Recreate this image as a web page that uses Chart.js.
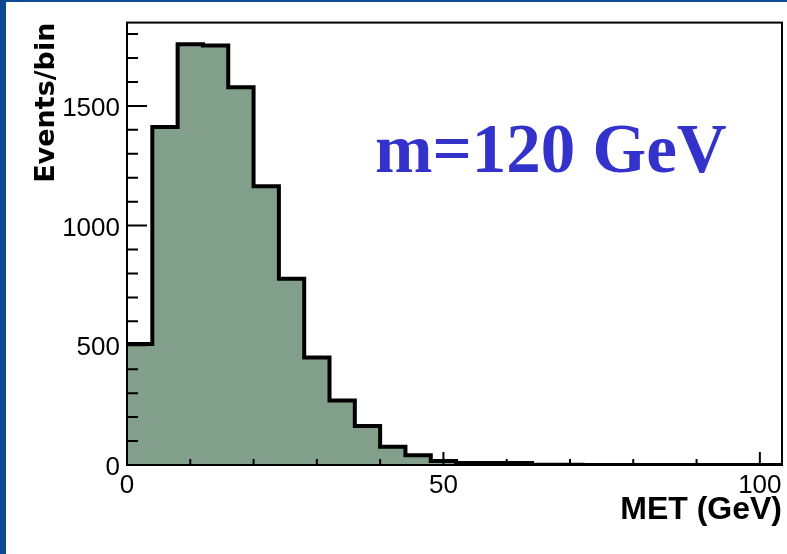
<!DOCTYPE html>
<html>
<head>
<meta charset="utf-8">
<title>MET distribution, m=120 GeV</title>
<script src="https://cdn.jsdelivr.net/npm/chart.js@4.4.1/dist/chart.umd.min.js"></script>
<style>
  html, body { margin: 0; padding: 0; background: #fff; }
  #wrap { position: relative; width: 787px; height: 554px; overflow: hidden; }
  .edge { position: absolute; background: #0e4a91; }
  #edge-left { left: 0; top: 0; width: 6px; height: 554px; }
  #edge-top { left: 0; top: 0; width: 787px; height: 2px; }
  canvas { position: absolute; left: 0; top: 0; }
  #mass {
    position: absolute; left: 375px; top: 115px;
    font: bold 69px "Liberation Serif", "Times New Roman", serif;
    line-height: 68px; color: #3333cc; white-space: nowrap;
  }
</style>
</head>
<body>
<div id="wrap">
  <div class="edge" id="edge-left"></div>
  <div class="edge" id="edge-top"></div>
  <canvas id="met-chart" width="787" height="554"></canvas>
  <div id="mass">m=120 GeV</div>
</div>
<script>
// MET histogram: low edge of each 4 GeV bin and the events in it
var binLow = [0, 4, 8, 12, 16, 20, 24, 28, 32, 36, 40, 44, 48,
              52, 56, 60, 64, 68, 72, 76, 80, 84, 88, 92, 96, 100];
var binHigh = 104;
var counts = [505, 1412, 1758, 1752, 1578, 1164, 778, 449, 269, 163, 76, 41, 17,
              8, 8, 8, 1, 1, 0, 0, 0, 0, 0, 0, 0, 0];

var xTicks = [0, 50, 100];
var yTicks = [0, 500, 1000, 1500];
var xMinor = [10, 20, 30, 40, 60, 70, 80, 90];
var yMinor = [100, 200, 300, 400, 600, 700, 800, 900, 1100, 1200, 1300, 1400, 1600, 1700, 1800];

var points = binLow.map(function(x, i) { return {x: x, y: counts[i]}; });
points.push({x: binHigh, y: counts[counts.length - 1]});

// ROOT-style frame with tick marks pointing into the pad
var padFrame = {
    id: 'padFrame',
    afterDatasetsDraw: function(chart) {
        var ctx = chart.ctx;
        var a = chart.chartArea;
        var xs = chart.scales.x, ys = chart.scales.y;
        ctx.save();
        ctx.strokeStyle = '#000';
        ctx.lineWidth = 2;
        ctx.beginPath();
        xTicks.forEach(function(v) {
            var px = xs.getPixelForValue(v);
            ctx.moveTo(px, a.bottom); ctx.lineTo(px, a.bottom - 13);
        });
        xMinor.forEach(function(v) {
            var px = xs.getPixelForValue(v);
            ctx.moveTo(px, a.bottom); ctx.lineTo(px, a.bottom - 6);
        });
        yTicks.forEach(function(v) {
            var py = ys.getPixelForValue(v);
            ctx.moveTo(a.left, py); ctx.lineTo(a.left + 20, py);
        });
        yMinor.forEach(function(v) {
            var py = ys.getPixelForValue(v);
            ctx.moveTo(a.left, py); ctx.lineTo(a.left + 11, py);
        });
        ctx.stroke();
        ctx.strokeRect(a.left, a.top, a.right - a.left, a.bottom - a.top);
        ctx.restore();
    }
};

function plainLabel(value) { return String(value); }

var ctx = document.getElementById('met-chart');
var metChart = new Chart(ctx, {
    type: 'line',
    data: {
        datasets: [{
            label: 'MET',
            data: points,
            stepped: true,
            fill: 'origin',
            backgroundColor: '#829f8b',
            borderColor: '#000',
            borderWidth: 4,
            borderJoinStyle: 'miter',
            pointRadius: 0,
            tension: 0
        }]
    },
    options: {
        responsive: false,
        animation: false,
        layout: { padding: { top: 18, right: 5, left: 0, bottom: 0 } },
        plugins: {
            legend: { display: false },
            tooltip: { enabled: false }
        },
        scales: {
            x: {
                type: 'linear',
                min: 0,
                max: 103.5,
                grid: { display: false, drawTicks: false },
                border: { display: false },
                afterBuildTicks: function(scale) {
                    scale.ticks = xTicks.map(function(v) { return {value: v}; });
                },
                afterFit: function(scale) { scale.height = 89; },
                ticks: {
                    color: '#000',
                    font: { family: 'Liberation Sans', size: 26 },
                    padding: 5,
                    maxRotation: 0,
                    autoSkip: false,
                    callback: plainLabel
                },
                title: {
                    display: true,
                    text: 'MET (GeV)',
                    align: 'end',
                    color: '#000',
                    font: { family: 'Liberation Sans', size: 32, weight: 'bold' },
                    padding: { top: 0, bottom: 25 }
                }
            },
            y: {
                min: 0,
                max: 1848,
                grid: { display: false, drawTicks: false },
                border: { display: false },
                afterBuildTicks: function(scale) {
                    scale.ticks = yTicks.map(function(v) { return {value: v}; });
                },
                afterFit: function(scale) { scale.width = 127; },
                ticks: {
                    color: '#000',
                    font: { family: 'Liberation Sans', size: 26 },
                    padding: 7,
                    labelOffset: 3,
                    callback: plainLabel
                },
                title: {
                    display: true,
                    text: 'Events/bin',
                    align: 'end',
                    color: '#000',
                    font: { family: 'DejaVu Sans', size: 27, weight: 'bold' },
                    padding: { top: 31, bottom: 0 }
                }
            }
        }
    },
    plugins: [padFrame]
});
</script>
</body>
</html>
